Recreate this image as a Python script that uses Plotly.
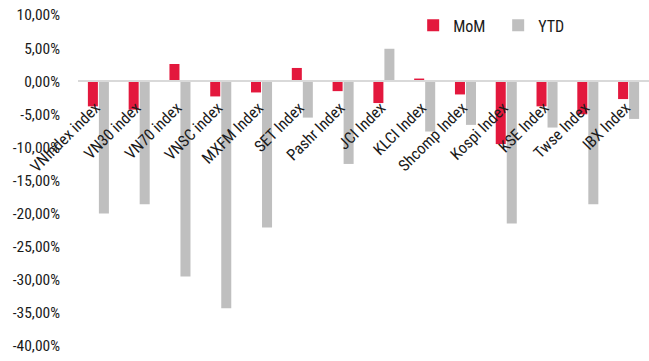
import plotly.graph_objects as go

# Monthly and year-to-date performance of regional equity indices (%)
categories = [
    "VNIndex index", "VN30 index", "VN70 index", "VNSC index", "MXFM Index",
    "SET Index", "Pashr Index", "JCI Index", "KLCI Index", "Shcomp Index",
    "Kospi Index", "KSE Index", "Twse Index", "IBX Index",
]
mom = [-3.8, -4.3, 2.6, -2.3, -1.7, 2.0, -1.5, -3.3, 0.4, -2.0, -9.5, -3.8, -5.0, -2.7]
ytd = [-20.0, -18.6, -29.5, -34.3, -22.1, -5.5, -12.5, 4.9, -7.6, -6.6, -21.5, -7.0, -18.6, -5.7]

y_ticks = [10, 5, 0, -5, -10, -15, -20, -25, -30, -35, -40]
y_tick_text = [f"{v:.2f}%".replace(".", ",") for v in y_ticks]

RED = "#E3183D"
GREY = "#BFBFBF"
FONT = "Roboto Condensed, Arial Narrow, Liberation Sans Narrow, Arial, sans-serif"
TXT = "#1a1a1a"

fig = go.Figure()
fig.add_trace(go.Bar(name="MoM", x=categories, y=mom, marker=dict(color=RED, line=dict(width=0))))
fig.add_trace(go.Bar(name="YTD", x=categories, y=ytd, marker=dict(color=GREY, line=dict(width=0))))

fig.update_layout(
    width=649,
    height=361,
    margin=dict(l=78, r=0, t=15, b=15),
    paper_bgcolor="white",
    plot_bgcolor="white",
    barmode="group",
    bargap=0.46,
    bargroupgap=0.09,
    font=dict(family=FONT, size=15, color=TXT),
    showlegend=True,
    legend=dict(
        orientation="h",
        x=0.587,
        y=1.02,
        xanchor="left",
        yanchor="top",
        bgcolor="rgba(0,0,0,0)",
        font=dict(family=FONT, size=16, color=TXT),
        itemwidth=30,
        entrywidth=40,
        entrywidthmode="pixels",
    ),
    xaxis=dict(
        anchor="free",
        position=0.8,
        showline=True,
        linecolor="#D9D9D9",
        linewidth=2,
        ticks="",
        tickangle=-45,
        ticklabelshift=-3,
        ticklabelstandoff=10,
        showgrid=False,
        zeroline=False,
        tickfont=dict(family=FONT, size=16, color=TXT),
    ),
    yaxis=dict(
        range=[-40, 10],
        tickvals=y_ticks,
        ticktext=y_tick_text,
        showgrid=False,
        zeroline=False,
        showline=False,
        ticks="",
        ticklabelstandoff=17,
        tickfont=dict(family=FONT, size=15.5, color=TXT),
    ),
)

fig.write_html("out.html")
